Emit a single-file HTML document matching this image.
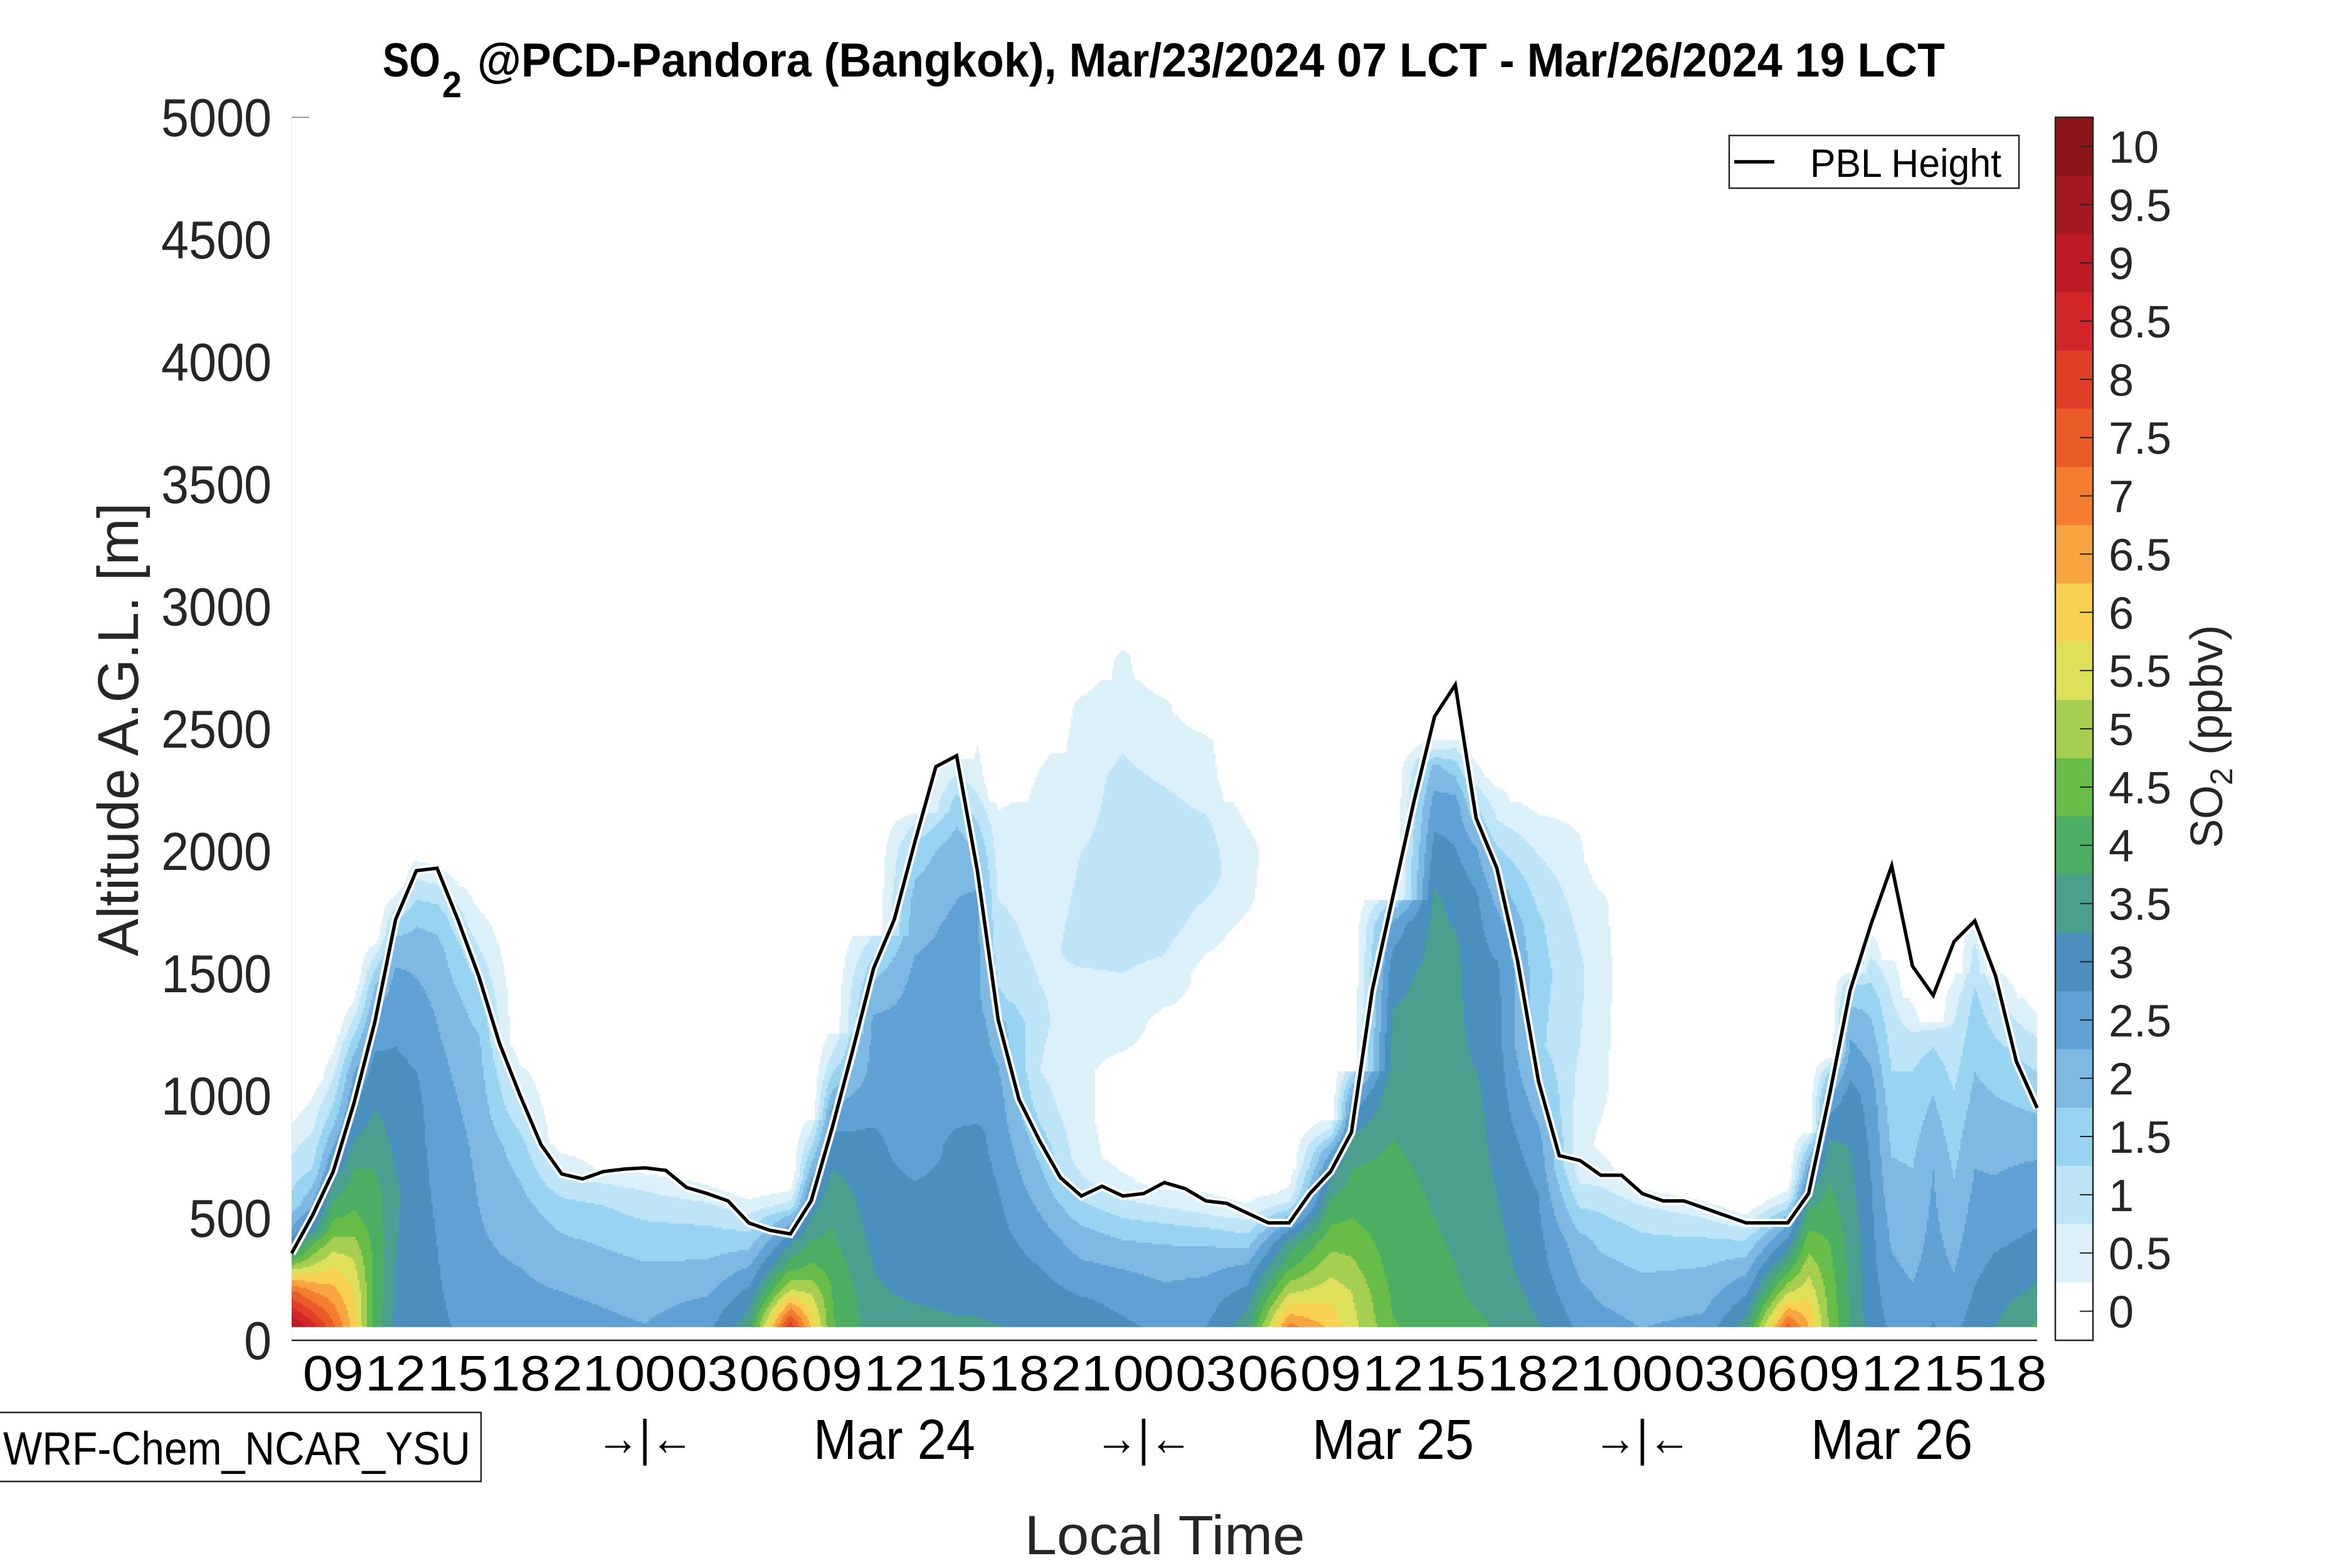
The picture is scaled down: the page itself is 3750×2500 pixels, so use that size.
<!DOCTYPE html>
<html><head><meta charset="utf-8">
<style>
html,body{margin:0;padding:0;background:#fff;}
#wrap{position:relative;width:3750px;height:2500px;overflow:hidden;background:#fff;}
#field{position:absolute;left:465px;top:187px;}
svg{position:absolute;left:0;top:0;}
text{font-family:"Liberation Sans",sans-serif;}
</style></head>
<body>
<div id="wrap">
<svg id="under" width="3750" height="2500"></svg>
<canvas id="field" width="2783" height="1930"></canvas>
<svg id="over" width="3750" height="2500"></svg>
</div>
<script>
// ---- data ----
const pblHours = [];
for (let i = 0; i <= 84; i++) pblHours.push(i);
const pblHeights = [356,510,690,970,1300,1720,1920,1930,1720,1490,1215,1000,800,680,660,690,700,705,695,625,600,570,480,450,435,570,865,1185,1520,1720,2040,2345,2390,1920,1310,985,815,665,590,630,590,600,645,620,570,560,520,480,480,600,690,850,1430,1815,2200,2550,2680,2135,1930,1550,1060,755,735,675,675,600,570,570,540,510,480,480,480,600,1000,1430,1700,1940,1530,1410,1630,1715,1490,1140,950];
const fieldHours = [0,1,2,3,4,5,6,7,9,11,13,17,20,22,24,25,26,28,30,32,33,34,36,38,40,42,44,46,48,50,51,53,55,56,57,58,60,62,63,65,68,70,72,73,74,75,76,77,78,79,80,81,82,84];
const fieldAlts = [
[0,100,200,250,300,350,450,550,700,850,950],
[0,100,200,300,400,450,550,700,850,950,1050],
[0,150,300,450,600,750,900,1050,1150,1250],
[0,200,350,500,700,900,1100,1250,1350,1450],
[0,300,600,900,1100,1300,1450,1550,1650],
[0,600,900,1200,1500,1650,1750,1850],
[0,500,1000,1300,1600,1750,1850,1950,2000],
[0,400,900,1300,1600,1750,1850,1950],
[0,300,800,1200,1400,1550,1700,1850],
[0,300,600,800,950,1100,1200],
[0,200,400,550,650,750,800],
[0,200,400,550,650,700],
[0,150,300,450,550,620,680],
[0,100,200,300,400,500,560,620],
[0,100,200,300,400,500,550,600,650],
[0,150,300,450,600,700,800,900],
[0,200,400,600,800,950,1050,1150,1250],
[0,200,500,800,1100,1300,1450,1550,1650],
[0,150,300,600,750,1500,1800,2000,2100,2150],
[0,200,500,800,1000,1700,2000,2200,2300,2380],
[0,200,600,850,950,1800,1950,2150,2300,2500,2700],
[0,200,500,1000,1300,1400,1600,1900,2100,2200],
[0,200,400,600,800,950,1100,1300,1600,2000,2200,2400],
[0,150,300,450,550,650,750,900,1100,1300,1600,2000,2400,2600,2700],
[0,200,350,450,550,620,750,1100,1300,1600,2000,2300,2600,2800,2900],
[0,200,350,450,520,580,650,1300,1450,1700,2000,2200,2400,2600,2700],
[0,200,350,450,500,560,650,1500,1700,1900,2100,2300,2450,2550],
[0,150,300,400,480,540,600,1650,1800,2000,2200],
[0,100,200,300,400,450,500,550,600,700],
[0,150,300,450,600,700,780,850,900],
[0,200,400,600,800,900,1000,1100],
[0,300,700,1200,1500,1700,1800],
[0,300,900,1800,2000,2200,2350,2400,2450],
[0,300,1000,1600,1900,2200,2350,2450],
[0,200,1000,1300,1800,2000,2150,2250,2350,2400],
[0,300,900,1500,1700,1850,2000,2100,2250,2300],
[0,300,600,800,1000,1200,1500,1700,1900,2100,2200],
[0,200,400,500,600,700,900,1200,1500,1800,2000,2200],
[0,200,400,550,650,800,1000,1500,1800,1950],
[0,200,350,500,600,650],
[0,150,300,420,500,560,600],
[0,100,200,300,400,450,500,550],
[0,100,200,300,400,500,550,600,650],
[0,150,300,450,600,700,800,850],
[0,200,400,600,800,900,1000,1100,1150],
[0,300,700,1000,1200,1350,1450,1500],
[0,500,1000,1200,1400,1550,1650],
[0,200,600,900,1100,1300,1450,1550],
[0,150,400,700,1000,1200,1300,1400],
[0,300,700,1000,1200,1300],
[0,200,500,900,1200,1400,1500],
[0,300,700,1100,1400,1600,1700],
[0,300,600,900,1200,1400,1500],
[0,200,400,700,1000,1200,1300,1400]
];
const fieldVals = [
[10.2,9,7.6,6.5,5.2,4.0,2.6,1.7,1.2,0.7,0.2],
[9.5,8.2,7.0,5.6,4.4,3.4,2.5,1.5,1.0,0.7,0.2],
[8.0,7.0,6.0,4.8,3.8,2.8,1.8,1.1,0.6,0.2],
[6.4,6.0,5.4,4.6,4.0,3.2,2.5,1.5,0.7,0.2],
[4.3,4.4,4.2,3.6,3.2,2.7,2,1.2,0.2],
[3.4,3.6,3.3,3.0,2.6,2.0,1.2,0.2],
[3.2,3.2,3.1,2.8,2.3,1.8,1.2,0.6,0.2],
[3.1,3.0,2.8,2.5,2.2,1.7,1.1,0.4],
[2.9,2.6,2.4,2.1,1.7,1.2,0.7,0.2],
[2.8,2.5,2.1,1.7,1.1,0.6,0.2],
[2.8,2.5,2.1,1.7,1.1,0.6,0.2],
[2.6,2.3,1.8,1.3,0.8,0.3],
[3.0,2.6,2.1,1.6,1.1,0.6,0.2],
[4.2,3.6,3.1,2.5,1.8,1.1,0.6,0.2],
[9.4,7.6,5.6,4.3,3.4,2.2,1.2,0.6,0.2],
[6.8,5.8,4.6,3.8,3.0,2.2,1.4,0.6],
[4.6,4.5,4.1,3.8,3.2,2.6,1.8,1.1,0.6],
[3.8,3.6,3.3,3.1,2.7,2.6,2.1,1.6,1.0],
[3.7,3.5,3.1,3.1,2.8,2.6,2.2,1.7,1.1,0.6],
[3.6,3.4,3.2,3.1,2.8,2.6,2.3,1.7,1.1,0.6],
[3.6,3.4,3.2,3.1,2.8,2.6,2.2,1.4,0.7,0.4,0.2],
[3.6,3.3,3.1,2.7,2.2,1.6,1.2,0.9,0.7,0.4],
[3.4,3.2,2.8,2.3,1.8,1.3,1.0,1.1,0.9,0.8,0.7,0.4],
[3.3,3.1,2.6,2.1,1.6,1.1,0.7,0.6,0.6,0.7,1.1,1.0,0.8,0.6,0.3],
[3.2,2.8,2.3,1.8,1.2,0.7,0.3,0.3,0.8,1.1,1.1,1.1,0.8,0.6,0.2],
[3.0,2.6,2.2,1.7,1.2,0.7,0.3,0.3,0.8,1.2,1.2,1.1,0.8,0.6,0.2],
[3.1,2.7,2.2,1.6,1.1,0.7,0.3,0.3,0.8,1.2,1.1,0.7,0.6,0.2],
[4.0,3.4,2.6,1.8,1.1,0.6,0.3,0.3,0.6,0.7,0.3],
[8.0,6.6,5.4,4.4,3.7,3.0,2.2,1.2,0.6,0.2],
[6.6,6.0,5.3,4.6,3.9,3.2,2.4,1.2,0.6],
[5.8,5.5,4.8,4.2,3.8,3.1,2.5,1.3],
[4.6,4.3,4.1,3.7,3.3,2.7,1.5],
[4.3,4.1,3.8,3.6,3.2,2.7,2.1,1.2,0.6],
[4.2,4.0,3.7,3.6,3.2,2.7,1.7,0.7],
[4.2,3.9,3.6,3.3,3.1,2.6,1.7,1.1,0.6,0.2],
[4.0,3.7,3.3,3.1,2.7,2.2,1.6,1.1,0.6,0.2],
[3.6,3.2,3.0,2.7,2.2,1.6,1.7,1.6,1.2,0.7,0.3],
[3.0,2.6,2.2,1.7,1.2,0.7,0.7,1.0,1.1,0.8,0.6,0.3],
[2.8,2.4,1.9,1.4,0.9,0.4,0.6,0.7,0.6,0.2],
[2.6,2.2,1.8,1.3,0.7,0.2],
[2.8,2.4,2.0,1.5,1.0,0.6,0.2],
[4.2,3.5,2.9,2.3,1.6,1.1,0.6,0.2],
[8.6,7.0,5.4,4.2,3.2,2.2,1.3,0.6,0.2],
[6.8,6.1,5.3,4.5,3.6,2.6,1.4,0.6],
[5.0,4.8,4.5,4.1,3.6,3.1,2.6,1.5,0.6],
[4.0,3.9,3.6,3.2,2.6,2.1,1.5,0.6],
[3.3,3.1,2.8,2.3,1.8,1.1,0.6],
[3.0,2.7,2.2,1.8,1.5,1.2,0.9,0.6],
[3.0,2.6,2.3,2.0,1.7,1.3,0.8,0.4],
[3.1,2.7,2.5,2.0,1.5,0.8],
[3.0,2.6,2.2,1.7,1.2,0.8,0.4],
[3.3,2.9,2.5,2.0,1.6,1.1,0.7],
[3.6,3.1,2.6,2.2,1.6,1.1,0.6],
[4.3,3.6,3.1,2.6,1.8,1.2,0.7,0.2]
];
const levelColors = ['#ffffff','#dcf0fa','#bde5f7','#98d4f2','#7db9e3','#5fa1d4','#4a8fbe','#4a9f8e','#4bae62','#67bd48','#a6cf51','#dfe05a','#f8d153','#f7a540','#f47d30','#eb5a29','#e03f28','#d2262a','#bd1c24','#a3191f','#8b1519'];
const yTicks = [0,500,1000,1500,2000,2500,3000,3500,4000,4500,5000];
const cbTicks = ['0','0.5','1','1.5','2','2.5','3','3.5','4','4.5','5','5.5','6','6.5','7','7.5','8','8.5','9','9.5','10'];
const xTickHours = [2,5,8,11,14,17,20,23,26,29,32,35,38,41,44,47,50,53,56,59,62,65,68,71,74,77,80,83];
const dayLabels = ['Mar 24','Mar 25','Mar 26'];
const dayNoonHours = [29,53,77];
const midnightHours = [17,41,65];

// ---- scales ----
const X0=465, X1=3248, Y0=2137, Y5=187, H=84;
const xs = h => X0 + (h/H)*(X1-X0);
const ys = a => Y0 - (a/5000)*(Y0-Y5);
const NS='http://www.w3.org/2000/svg';
function mk(parent, tag, attrs, txt){
  const e=document.createElementNS(NS,tag);
  for(const k in attrs) e.setAttribute(k,attrs[k]);
  if(txt!==undefined) e.textContent=txt;
  parent.appendChild(e); return e;
}
const under=document.getElementById('under'), over=document.getElementById('over');

const yl=mk(under,'line',{x1:X0,y1:Y5,x2:X0,y2:Y0,stroke:'#f2f2f2','stroke-width':2});


const tk=mk(under,'line',{x1:X0,y1:ys(5000),x2:X0+28,y2:ys(5000),stroke:'#9a9a9a','stroke-width':2});



// ---- field ----
function prof(i,a){
  const al=fieldAlts[i], vl=fieldVals[i];
  if(a<=al[0]) return vl[0];
  for(let k=0;k<al.length-1;k++){
    if(a<=al[k+1]){const t=(a-al[k])/(al[k+1]-al[k]);return vl[k]+t*(vl[k+1]-vl[k]);}
  }
  return 0;
}
const cv=document.getElementById('field');
const ctx=cv.getContext('2d');
const step=3;
const groundTop = ys(51);
for(let px=0;px<cv.width;px+=step){
  const h=((px+step/2)/(X1-X0))*H;
  let i=0; while(i<fieldHours.length-2 && fieldHours[i+1]<h) i++;
  const t=Math.max(0,Math.min(1,(h-fieldHours[i])/(fieldHours[i+1]-fieldHours[i])));
  for(let py=0;py<cv.height;py+=step){
    const yAbs=Y5+py+step/2;
    if(yAbs>groundTop) continue;
    const a=(Y0-yAbs)/(Y0-Y5)*5000;
    const v=(1-t)*prof(i,a)+t*prof(i+1,a);
    const idx=Math.min(20,Math.floor(v/0.5));
    if(idx<=0) continue;
    ctx.fillStyle=levelColors[idx];
    ctx.fillRect(px,py,step,step);
  }
}
ctx.fillStyle='#b3b3b3';
ctx.fillRect(0,groundTop-Y5,cv.width,Y0-groundTop);

// ---- overlay ----
const base=mk(over,'line',{x1:X0,y1:Y0,x2:X1,y2:Y0,stroke:'#262626','stroke-width':2.5});


let d='';
pblHours.forEach((h,k)=>{d+=(k?'L':'M')+xs(h).toFixed(1)+' '+ys(pblHeights[k]).toFixed(1);});
const halo=mk(over,'path',{d:d,fill:'none',stroke:'#ffffff','stroke-width':13,'stroke-linejoin':'miter'});


const pl=mk(over,'path',{d:d,fill:'none',stroke:'#000000','stroke-width':5.5,'stroke-linejoin':'miter'});



yTicks.forEach(v=>{
  const s=String(v);
  const t=mk(over,'text',{x:433,y:ys(v)+30,'text-anchor':'end','font-size':85,fill:'#262626',textLength:s.length*44,lengthAdjust:'spacingAndGlyphs'},s);
  
  
});
xTickHours.forEach(h=>{
  const lab=String((7+h)%24).padStart(2,'0');
  const t=mk(over,'text',{x:xs(h),y:2217,'text-anchor':'middle','font-size':80,fill:'#000',textLength:97,lengthAdjust:'spacingAndGlyphs'},lab);
  
  
});
dayLabels.forEach((s,k)=>{
  const t=mk(over,'text',{x:xs(dayNoonHours[k]),y:2326,'text-anchor':'middle','font-size':90,fill:'#000',textLength:258,lengthAdjust:'spacingAndGlyphs'},s);
  
  
});
midnightHours.forEach(h=>{
  const t=mk(over,'text',{x:xs(h),y:2320,'text-anchor':'middle','font-size':80,fill:'#000',textLength:155,lengthAdjust:'spacingAndGlyphs'},'→|←');
  
  
});

// colorbar
const CBX=3277, CBW=60, CBB=2137, BH=(2137-187)/21;
levelColors.forEach((c,k)=>{
  const r=mk(over,'rect',{x:CBX,y:CBB-(k+1)*BH,width:CBW,height:BH+0.5,fill:c});
  
  
});
const cbf=mk(over,'rect',{x:CBX,y:187,width:CBW,height:CBB-187,fill:'none',stroke:'#262626','stroke-width':2.5});


cbTicks.forEach((s,k)=>{
  const y=CBB-(k+0.5)*BH;
  const tm=mk(over,'line',{x1:CBX+39,y1:y,x2:CBX+CBW,y2:y,stroke:'#262626','stroke-width':2});
  
  
  const t=mk(over,'text',{x:3362,y:y+26,'font-size':72,fill:'#262626'},s);
  
  
});
</script>
<svg width="3750" height="2500" style="position:absolute;left:0;top:0">
  <text font-weight="bold" fill="#000"><tspan x="610" y="122" font-size="76" textLength="92" lengthAdjust="spacingAndGlyphs">SO</tspan><tspan x="705" y="155" font-size="58" textLength="31" lengthAdjust="spacingAndGlyphs">2</tspan><tspan x="761" y="122" font-size="76" textLength="2340" lengthAdjust="spacingAndGlyphs">@PCD-Pandora (Bangkok), Mar/23/2024 07 LCT - Mar/26/2024 19 LCT</tspan></text>
  <text transform="translate(220,1163) rotate(-90)" text-anchor="middle" font-size="92" fill="#262626" textLength="723" lengthAdjust="spacingAndGlyphs">Altitude A.G.L. [m]</text>
  <text x="1857" y="2478" text-anchor="middle" font-size="88" fill="#262626" textLength="447" lengthAdjust="spacingAndGlyphs">Local Time</text>
  <text transform="translate(3543,1352) rotate(-90)" fill="#262626"><tspan font-size="72" textLength="100" lengthAdjust="spacingAndGlyphs">SO</tspan><tspan font-size="50" dy="16">2</tspan><tspan font-size="72" dy="-16" textLength="228" lengthAdjust="spacingAndGlyphs"> (ppbv)</tspan></text>
  <g>
    <rect x="2757" y="216" width="462" height="84" fill="#fff" stroke="#262626" stroke-width="2.5"/>
    <line x1="2765" y1="258" x2="2829" y2="258" stroke="#000" stroke-width="5.5"/>
    <text x="2886" y="282" font-size="63" fill="#000" textLength="305" lengthAdjust="spacingAndGlyphs">PBL Height</text>
  </g>
  <g>
    <rect x="-2" y="2252" width="769" height="110" fill="#fff" stroke="#262626" stroke-width="2.5"/>
    <text x="5" y="2335" font-size="74" fill="#000" textLength="745" lengthAdjust="spacingAndGlyphs">WRF-Chem_NCAR_YSU</text>
  </g>
</svg>
</body></html>
